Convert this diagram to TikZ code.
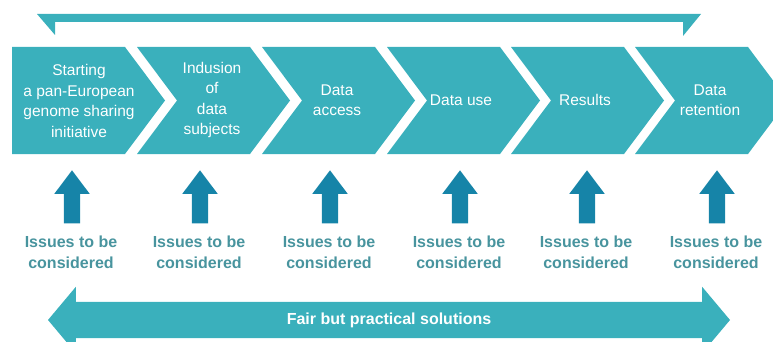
\documentclass[tikz,border=0pt]{standalone}
\usepackage{fontspec}
\setmainfont{Liberation Sans}
\usetikzlibrary{positioning}
\usetikzlibrary{shapes.arrows}
\definecolor{canard}{RGB}{58,176,188}
\definecolor{bleufonce}{RGB}{22,132,168}
\definecolor{gristeal}{RGB}{72,148,158}
\tikzset{
  etape/.style={align=center,text=white,inner sep=0pt,font=\fontsize{15.5}{20.5}\selectfont},
  issue/.style={align=center,text=gristeal,inner sep=0pt,font=\bfseries\fontsize{16}{21}\selectfont},
  monte/.style={single arrow,fill=bleufonce,rotate=90,anchor=tip,inner xsep=0pt,inner ysep=8pt,
    minimum height=53pt,minimum width=35pt,single arrow head extend=9.5pt,
    single arrow tip angle=74},
  solution/.style={double arrow,fill=canard,inner xsep=0pt,inner ysep=10.5pt,text=white,
    text height=11.7pt,text depth=3.3pt,
    minimum height=682pt,minimum width=66pt,double arrow head extend=15pt,
    double arrow tip angle=100,font=\bfseries\fontsize{16}{19}\selectfont}
}
\begin{document}
\begin{tikzpicture}[x=1pt,y=-1pt]
\useasboundingbox (0,0) rectangle (773,342);
\clip (0,0) rectangle (773,342);
% fleche haut
\fill[canard] (37,14) -- (701,14) -- (683,36) -- (683,22) -- (55,22) -- (55,35) -- cycle;
% chevrons
\fill[canard] (12,47) -- (125,47) -- (165,100.5) -- (125,154) -- (12,154) -- cycle;
\foreach \x in {137,262,387,511,635}
    {
    \fill[canard] (\x,47) -- (\x+113,47) -- (\x+153,100.5) -- (\x+113,154) -- (\x,154) -- (\x+40,100.5) -- cycle;
    }
\node[etape] (c1) at (79,101) {Starting\\a pan-European\\genome sharing\\initiative};
\node[etape] (c2) at (212,100) {Indusion\\of\\data\\subjects};
\node[etape] (c3) at (337,100) {Data\\access};
\node[etape] (c4) at (461,100) {Data use};
\node[etape] (c5) at (585,100) {Results};
\node[etape] (c6) at (710,100) {Data\\retention};
% issues
\foreach \x/\n in {72/1,200/2,330/3,460/4,587/5,717/6}
    {
    \node[monte] (f\n) at (\x,170) {};
    \node[issue] (i\n) at (\x-1,252) {Issues to be\\considered};
    }
% fleche bas
\node[solution] (sol) at (389,320) {Fair but practical solutions};
\end{tikzpicture}
\end{document}
